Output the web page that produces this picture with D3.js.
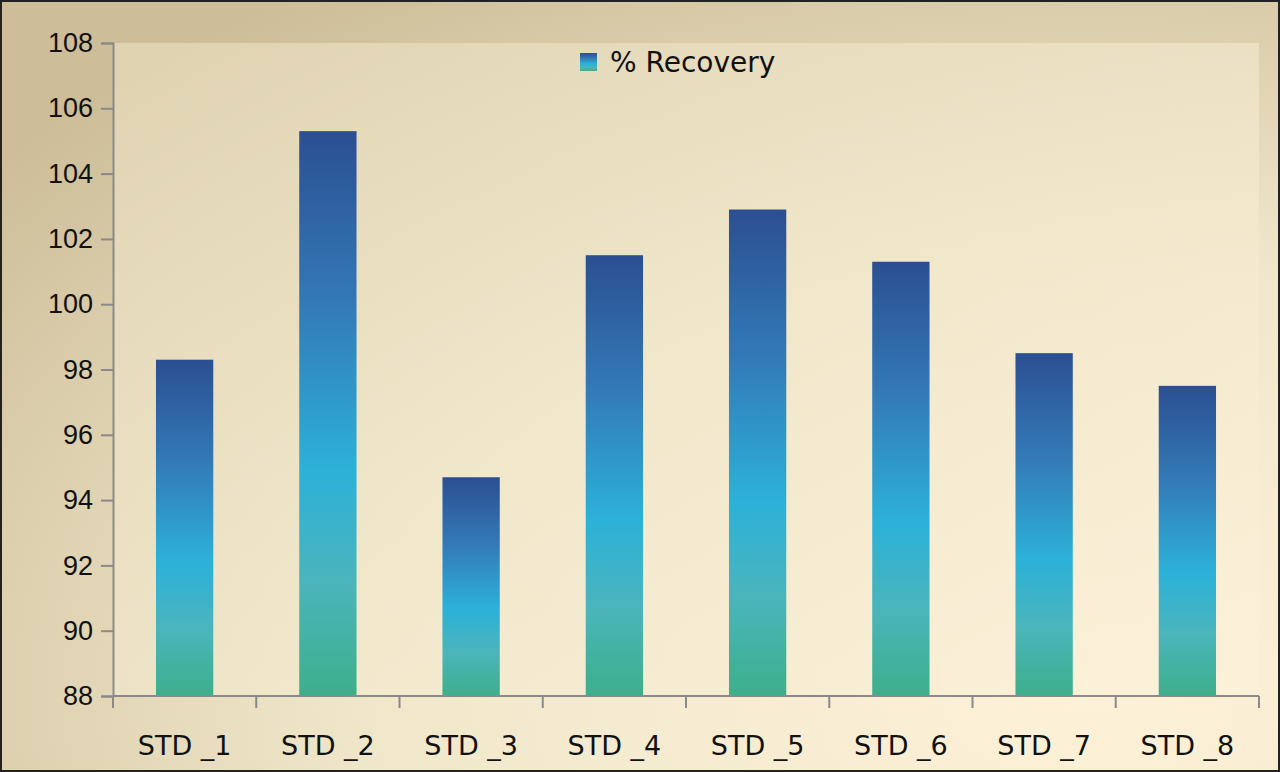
<!DOCTYPE html>
<html lang="en">
<head>
<meta charset="UTF-8" />
<script src="https://d3js.org/d3.v7.min.js"></script>
<style>
  body { margin:0; padding:0; overflow:hidden; }
  svg { display:block; font-family:"DejaVu Sans", Verdana, sans-serif; }
</style>
</head>
<body>
<svg width="1280" height="772"></svg>
<script>
  const categories = ["STD _1","STD _2","STD _3","STD _4","STD _5","STD _6","STD _7","STD _8"];
  const recovery = [98.3, 105.3, 94.7, 101.5, 102.9, 101.3, 98.5, 97.5];
  const yTicks = [88, 90, 92, 94, 96, 98, 100, 102, 104, 106, 108];
  const seriesName = "% Recovery";

  const W = 1280, H = 772;
  const m = { left: 113, right: 21, top: 43, bottom: 76 };
  const svg = d3.select("svg");
  const defs = svg.append("defs");

  // background
  const bg = defs.append("radialGradient").attr("id", "bg")
    .attr("cx", "0.85").attr("cy", "0.9").attr("r", "1.1");
  bg.append("stop").attr("offset", "0").attr("stop-color", "#fdf1d8");
  bg.append("stop").attr("offset", "0.5").attr("stop-color", "#f1e8cc");
  bg.append("stop").attr("offset", "1").attr("stop-color", "#cdbd98");
  svg.append("rect").attr("width", W).attr("height", H).attr("fill", "url(#bg)");

  const plotBg = defs.append("linearGradient").attr("id", "plotbg")
    .attr("x1", "0").attr("y1", "0").attr("x2", "1").attr("y2", "1");
  plotBg.append("stop").attr("offset", "0").attr("stop-color", "#e6dcbc");
  plotBg.append("stop").attr("offset", "1").attr("stop-color", "#fcf2da");
  svg.append("rect").attr("x", m.left).attr("y", m.top)
    .attr("width", W - m.left - m.right).attr("height", H - m.top - m.bottom)
    .attr("fill", "url(#plotbg)").attr("opacity", 0.7);

  svg.append("rect").attr("x", 1).attr("y", 1).attr("width", W - 2).attr("height", H - 2)
    .attr("fill", "none").attr("stroke", "#222").attr("stroke-width", 2);

  // bar gradient
  const bar = defs.append("linearGradient").attr("id", "bar")
    .attr("x1", "0").attr("y1", "0").attr("x2", "0").attr("y2", "1");
  bar.append("stop").attr("offset", "0").attr("stop-color", "#2b4f92");
  bar.append("stop").attr("offset", "0.3").attr("stop-color", "#3379b6");
  bar.append("stop").attr("offset", "0.6").attr("stop-color", "#2cb1d9");
  bar.append("stop").attr("offset", "0.8").attr("stop-color", "#4bb5bb");
  bar.append("stop").attr("offset", "1").attr("stop-color", "#3daf8b");

  const x = d3.scaleBand().domain(categories)
    .range([m.left, W - m.right]).paddingInner(0.6).paddingOuter(0.3);
  const y = d3.scaleLinear().domain([88, 108]).range([H - m.bottom, m.top]);

  svg.selectAll(".bar").data(categories).enter().append("rect")
    .attr("x", d => x(d))
    .attr("y", (d, i) => y(recovery[i]))
    .attr("width", x.bandwidth())
    .attr("height", (d, i) => y(88) - y(recovery[i]))
    .attr("fill", "url(#bar)");

  // y axis
  const yAxis = svg.append("g").attr("transform", `translate(${m.left},0)`)
    .call(d3.axisLeft(y).tickValues(yTicks).tickSize(12).tickPadding(8));
  yAxis.selectAll("text").attr("font-size", 27).attr("fill", "#111");

  // x axis with ticks at band boundaries
  const xg = svg.append("g").attr("transform", `translate(0,${y(88)})`);
  xg.append("line").attr("x1", m.left).attr("x2", W - m.right);
  const step = (W - m.left - m.right) / categories.length;
  xg.selectAll(".tk").data(d3.range(categories.length + 1)).enter().append("line")
    .attr("x1", i => m.left + i * step).attr("x2", i => m.left + i * step)
    .attr("y1", 0).attr("y2", 12);
  xg.selectAll("text").data(categories).enter().append("text")
    .attr("x", d => x(d) + x.bandwidth() / 2).attr("y", 59)
    .attr("text-anchor", "middle").attr("font-size", 27).attr("fill", "#111")
    .text(d => d);

  svg.selectAll(".domain, .tick line, g line").attr("stroke", "#8a8a8a").attr("stroke-width", 2);

  // legend
  const lg = svg.append("g").attr("transform", "translate(580,53)");
  lg.append("rect").attr("width", 17).attr("height", 18).attr("fill", "url(#bar)");
  lg.append("text").attr("x", 30).attr("y", 19).attr("font-size", 28).attr("fill", "#111")
    .text(seriesName);
</script>
</body>
</html>
